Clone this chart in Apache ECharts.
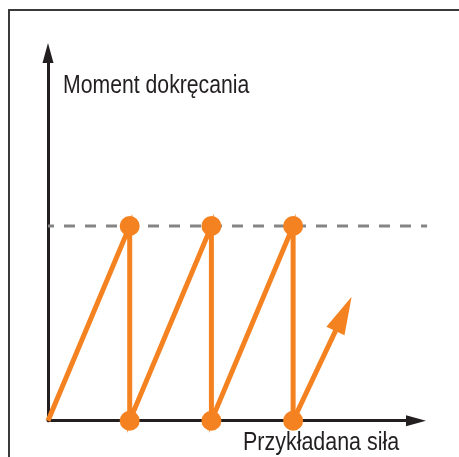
<!DOCTYPE html>
<html>
<head>
<meta charset="utf-8">
<script src="https://cdn.jsdelivr.net/npm/echarts@6/dist/echarts.min.js"></script>
<style>
  html, body { margin: 0; padding: 0; background: #fff; }
  #chart { width: 459px; height: 457px; }
</style>
</head>
<body>
<div id="chart"></div>
<script>
// Applied force (x) and tightening torque (y): ratchet-style saw-tooth cycle
const force  = [0, 1, 1, 2, 2, 3, 3];
const torque = [0, 1, 0, 1, 0, 1, 0];
// Torque limit (dashed level) and the final, still-rising stroke
const limitTorque = 1;
const limitSpan = [0, 4.64];
const finalStroke = { force: [3, 3.617], torque: [0, 0.549] };
// Axis extents
const xMax = 4.504;
const yMax = 1.889;
// Axis captions
const yTitle = 'Moment dokręcania';
const xTitle = 'Przykładana siła';

const ORANGE = '#F58220';
const INK = '#231f20';
const FONT = '"Liberation Sans", Arial, sans-serif';

// Plot geometry: the visible axes stop at xMax, the reference level runs a bit further
const W = 459, H = 457;
const gLeft = 48, gRight = 43, gTop = 53, gBottom = 36.3;
const unitX = (W - gLeft - gRight) / xMax;
const wideRight = W - gLeft - limitSpan[1] * unitX;

const sawData = force.map((f, i) => ({
  value: [f, torque[i]],
  symbol: i === 0 ? 'none' : 'circle'
}));

const chart = echarts.init(document.getElementById('chart'), null, { renderer: 'canvas' });

const axisCommon = {
  type: 'value',
  axisLine: {
    show: true,
    onZero: true,
    symbol: ['none', 'triangle'],
    symbolSize: [11, 20],
    lineStyle: { color: INK, width: 3 }
  },
  axisTick: { show: false },
  axisLabel: { show: false },
  splitLine: { show: false }
};
const hiddenAxis = { type: 'value', show: false, splitLine: { show: false } };

chart.setOption({
  animation: false,
  backgroundColor: '#fff',
  grid: [
    { left: gLeft, right: gRight, top: gTop, bottom: gBottom, containLabel: false },
    { left: gLeft, right: wideRight, top: gTop, bottom: gBottom, containLabel: false }
  ],
  xAxis: [
    Object.assign({}, axisCommon, { gridIndex: 0, min: 0, max: xMax }),
    Object.assign({}, hiddenAxis, { gridIndex: 1, min: 0, max: limitSpan[1] })
  ],
  yAxis: [
    Object.assign({}, axisCommon, { gridIndex: 0, min: 0, max: yMax }),
    Object.assign({}, hiddenAxis, { gridIndex: 1, min: 0, max: yMax })
  ],
  graphic: [
    {
      type: 'rect', silent: true, z: -10,
      shape: { x: 9, y: 10, width: 700, height: 700 },
      style: { fill: 'none', stroke: '#3a3a3a', lineWidth: 2 }
    },
    {
      type: 'text', x: 63, y: 86, scaleX: 0.816,
      style: { text: yTitle, font: '26px ' + FONT, fill: INK, verticalAlign: 'middle', align: 'left' }
    },
    {
      type: 'text', x: 243, y: 443, scaleX: 0.825,
      style: { text: xTitle, font: '26px ' + FONT, fill: INK, verticalAlign: 'middle', align: 'left' }
    }
  ],
  series: [
    {
      type: 'line',
      xAxisIndex: 1, yAxisIndex: 1,
      data: limitSpan.map(f => [f, limitTorque]),
      symbol: 'none',
      clip: false,
      z: 1,
      lineStyle: { color: '#858585', width: 3, type: [11, 10], dashOffset: 5 }
    },
    {
      type: 'line',
      data: sawData,
      showAllSymbol: true,
      symbolSize: 20,
      clip: false,
      z: 3,
      itemStyle: { color: ORANGE },
      lineStyle: { color: ORANGE, width: 5, join: 'miter' }
    },
    {
      type: 'lines',
      coordinateSystem: 'cartesian2d',
      polyline: false,
      z: 3,
      symbol: ['none', 'triangle'],
      // [start size, end size]; the end head is slender: 20 wide, 38 long
      symbolSize: [[0, 0], [20, 38]],
      lineStyle: { color: ORANGE, width: 5, opacity: 1 },
      data: [{
        coords: finalStroke.force.map((f, i) => [f, finalStroke.torque[i]])
      }]
    }
  ]
});
</script>
</body>
</html>
